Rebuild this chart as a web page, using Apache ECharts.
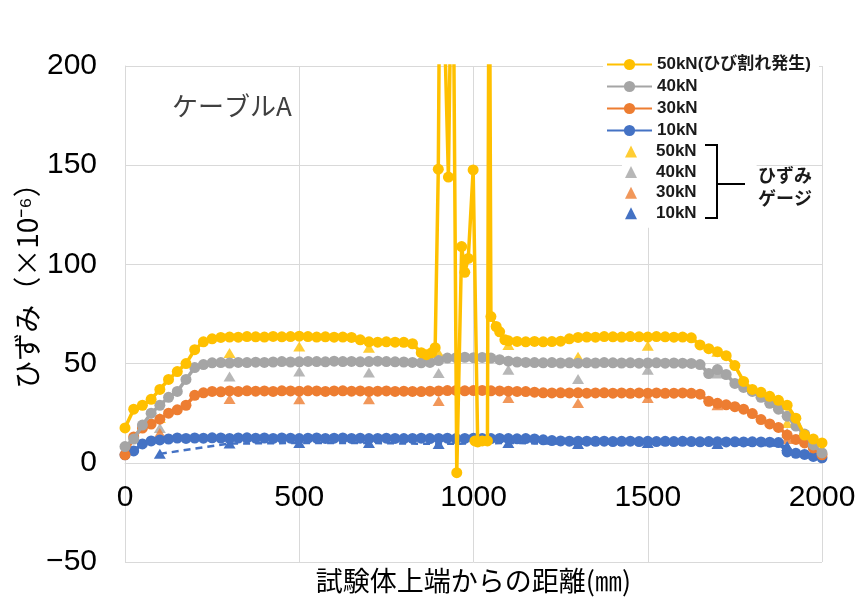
<!DOCTYPE html>
<html>
<head>
<meta charset="utf-8">
<script src="https://cdn.jsdelivr.net/npm/echarts@6/dist/echarts.min.js"></script>
<style>
html, body { margin: 0; padding: 0; background: #fff; }
#chart { width: 856px; height: 600px; }
</style>
</head>
<body>
<div id="chart"></div>
<script>
// 軸の目盛
var xTicks = [0, 500, 1000, 1500, 2000];
var yTicks = [-50, 0, 50, 100, 150, 200];

// 光ファイバ計測位置(mm) 10/30/40kN共通
var dist = [
	0, 25, 50, 75, 100, 125, 150, 175, 200, 225,
	250, 275, 300, 325, 350, 375, 400, 425, 450, 475,
	500, 525, 550, 575, 600, 625, 650, 675, 700, 725,
	750, 775, 800, 825, 850, 875, 900, 925, 950, 975,
	1000, 1025, 1050, 1075, 1100, 1125, 1150, 1175, 1200, 1225,
	1250, 1275, 1300, 1325, 1350, 1375, 1400, 1425, 1450, 1475,
	1500, 1525, 1550, 1575, 1600, 1625, 1650, 1675, 1700, 1725,
	1750, 1775, 1800, 1825, 1850, 1875, 1900, 1925, 1950, 1975,
	2000
];
var kN10 = [
	4, 6, 9.5, 11, 11.5, 12, 12.5, 12.3, 12.5, 12.4,
	12.6, 12.5, 12.3, 12.5, 12.6, 12.4, 12.5, 12.3, 12.5, 12.4,
	12.2, 12.4, 12.5, 12.3, 12.4, 12.5, 12.3, 12.4, 12.2, 12.3,
	12.4, 12.3, 12.2, 12.3, 12.4, 12.2, 12.3, 12.4, 12.2, 12.3,
	12.4, 12.3, 12.2, 12.3, 12.2, 12.1, 12.2, 12, 11.6, 11.2,
	11, 10.9, 10.8, 10.9, 10.8, 10.9, 10.7, 10.8, 10.9, 10.7,
	10.8, 10.7, 10.8, 10.7, 10.8, 10.7, 10.6, 10.7, 10.6, 10.5,
	10.6, 10.5, 10.6, 10.5, 10.4, 10.2, 5.5, 4.8, 4.2, 3.2,
	2.5
];
var kN30 = [
	4, 13, 17.5, 19.5, 22, 25, 26.7, 29, 34, 35.3,
	36, 35.8, 36.2, 36, 36.3, 36.1, 36.2, 36, 36.3, 36.2,
	36.1, 36.3, 36.2, 36, 36.2, 36.3, 36.1, 36.2, 36, 36.1,
	36.2, 36, 36.1, 36, 35.9, 36.1, 36.2, 36.4, 36.5, 36.3,
	36.4, 36.5, 36.3, 36.2, 36.1, 36, 35.9, 35.6, 35.3, 35.2,
	35.3, 35.2, 35.3, 35.1, 35.2, 35.3, 35.1, 35.2, 35, 35.2,
	35.1, 35.2, 35, 35.1, 35.2, 35, 34.6, 31, 30, 29.2,
	28.3, 27, 24.8, 21.8, 19.6, 17.8, 14, 11.8, 10, 7.5,
	4
];
var kN40 = [
	8.2, 12, 19, 25, 29, 33, 36, 42, 48, 49.5,
	50.4, 50.5, 50.3, 50.6, 50.5, 50.7, 50.6, 50.8, 51, 50.8,
	50.9, 51.1, 51, 50.9, 51.2, 51, 51.1, 50.9, 51, 51.2,
	51, 50.9, 50.8, 50.6, 50.4, 50.6, 51.5, 52.8, 53, 53.2,
	53, 53.1, 52.8, 52, 51.2, 50.8, 50.6, 50.5, 50.4, 50.5,
	50.3, 50.4, 50.2, 50.4, 50.3, 50.5, 50.4, 50.3, 50.4, 50.2,
	50.3, 50.4, 50.2, 50.3, 50.2, 50.1, 49.5, 45, 47, 44.5,
	40, 38, 36, 33, 30, 27, 23.5, 18.5, 14.5, 9,
	5
];

// 50kN(ひび割れ発生) 中央付近は計測点が別
var dist50 = [
	0, 25, 50, 75, 100, 125, 150, 175, 200, 225,
	250, 275, 300, 325, 350, 375, 400, 425, 450, 475,
	500, 525, 550, 575, 600, 625, 650, 675, 700, 725,
	750, 775, 800, 825, 850, 865, 880, 890, 899, 905,
	928, 940, 952, 966, 975, 985, 999, 1012, 1004, 1025,
	1040, 1045, 1050, 1065, 1075, 1090, 1100, 1125, 1150, 1175,
	1200, 1225, 1250, 1275, 1300, 1325, 1350, 1375, 1400, 1425,
	1450, 1475, 1500, 1525, 1550, 1575, 1600, 1625, 1650, 1675,
	1700, 1725, 1750, 1775, 1800, 1825, 1850, 1875, 1900, 1925,
	1950, 1975, 2000
];
var kN50 = [
	17.6, 27, 29, 32, 37, 42, 46, 50, 57, 61,
	62.5, 63.2, 63.4, 63.3, 63.6, 63.5, 63.4, 63.7, 63.5, 63.6,
	63.8, 63.6, 63.4, 63.5, 63.3, 63.4, 63.2, 62, 61, 60.8,
	61, 60.8, 60.7, 60, 55.5, 54.5, 55.5, 58, 148, 300,
	144, 300, -5, 109, 96, 103, 147.6, 10.5, 11, 11,
	11, 300, 73.7, 68.7, 66, 62, 61.5, 61.2, 61, 61.2,
	61, 61.1, 61.3, 62.5, 63.2, 63.4, 63.3, 63.6, 63.5, 63.4,
	63.6, 63.5, 63.4, 63.6, 63.5, 63.3, 63.4, 63, 59.4, 57.5,
	56, 54, 49, 41, 37, 35.5, 33.5, 31.5, 29, 22.5,
	14, 12, 10
];

// ひずみゲージ
var gaugeDist = [100, 300, 500, 700, 900, 1100, 1300, 1500, 1700, 1900];
var gauge50 = [22.6, 55.4, 58.6, 58, 55.4, 59.4, 53.5, 59, 56, 20];
var gauge40 = [17.6, 43.5, 46, 45.5, 45.3, 46.9, 42.3, 46.9, 45, 15];
var gauge30 = [15, 32.2, 32, 32, 31.2, 32.7, 30.2, 32.7, 29, 12];
var gauge10 = [4.5, 9.7, 10, 10, 9.5, 10, 9.5, 10, 9.5, 8.5];

var COLORS = { k50: '#FFC000', k40: '#A5A5A5', k30: '#ED7D31', k10: '#4472C4' };
var GAUGE = 'ゲージ ';
var NUM_FONT = "'Liberation Sans', sans-serif";
var JP_FONT = "'Noto Sans CJK JP', sans-serif";
var LEGEND_FONT = "'Liberation Sans', 'Noto Sans CJK JP', sans-serif";

/**
 * x,y配列を点列にする
 */
var _pairs = function(xs, ys) {
	var out = [];
	for(var i = 0; i < xs.length; i++) {
		out.push([xs[i], ys[i]]);
	}
	return out;
};

/**
 * 光ファイバの折れ線(丸マーカー)
 */
var _fiber = function(name, color, xs, ys, z) {
	return {
		name: name,
		type: 'line',
		data: _pairs(xs, ys),
		symbol: 'circle',
		symbolSize: 11,
		clip: true,
		z: z,
		itemStyle: { color: color },
		lineStyle: { color: color, width: 3.5 },
		emphasis: { disabled: true }
	};
};

/**
 * ゲージの三角マーカー
 */
var _gauge = function(name, color, ys, dashed) {
	var s = {
		name: GAUGE + name,
		type: dashed ? 'line' : 'scatter',
		data: _pairs(gaugeDist, ys),
		symbol: 'triangle',
		symbolSize: [12, 10],
		z: 1,
		itemStyle: { color: color },
		emphasis: { disabled: true }
	};
	if(dashed) {
		s.lineStyle = { color: color, width: 2.5, type: [7, 5] };
	}
	return s;
};

var _plain = function(v) {
	return String(v).replace('-', '\u2212');
};

var chart = echarts.init(document.getElementById('chart'), null, { renderer: 'canvas' });

var option = {
	animation: false,
	backgroundColor: '#fff',
	grid: { left: 125, right: 34, top: 66, bottom: 38, outerBoundsMode: 'none' },
	xAxis: {
		type: 'value',
		min: xTicks[0],
		max: xTicks[xTicks.length - 1],
		interval: xTicks[1] - xTicks[0],
		// 目盛ラベルは0の線の下に置く
		offset: -99,
		axisLine: { show: true, onZero: false, lineStyle: { color: '#d9d9d9', width: 1 } },
		axisTick: { show: false },
		axisLabel: { margin: 20, color: '#000', fontSize: 30, fontFamily: NUM_FONT, formatter: _plain },
		splitLine: { show: true, lineStyle: { color: '#d9d9d9', width: 1 } },
		name: '試験体上端からの距離(㎜)',
		nameLocation: 'middle',
		nameGap: 104,
		nameMoveOverlap: false,
		nameTextStyle: { color: '#000', fontSize: 27, fontFamily: JP_FONT }
	},
	yAxis: {
		type: 'value',
		min: yTicks[0],
		max: yTicks[yTicks.length - 1],
		interval: yTicks[1] - yTicks[0],
		axisLine: { show: true, lineStyle: { color: '#d9d9d9', width: 1 } },
		axisTick: { show: false },
		axisLabel: { margin: 28, color: '#000', fontSize: 30, fontFamily: NUM_FONT, formatter: _plain },
		splitLine: { show: true, lineStyle: { color: '#d9d9d9', width: 1 } },
		name: 'ひずみ（×10⁻⁶）',
		nameLocation: 'middle',
		nameRotate: 90,
		nameGap: 84,
		nameMoveOverlap: false,
		nameTextStyle: { color: '#000', fontSize: 28, fontFamily: JP_FONT, padding: [0, 0, 0, 70] }
	},
	legend: [{
		// 光ファイバ
		orient: 'vertical',
		left: 603,
		top: 53,
		itemWidth: 45,
		itemHeight: 14,
		itemGap: 5,
		padding: [3, 8, 3, 3],
		backgroundColor: '#fff',
		selectedMode: false,
		textStyle: { color: '#1a1a1a', fontSize: 17, fontWeight: 'bold', fontFamily: LEGEND_FONT },
		data: ['50kN(ひび割れ発生)', '40kN', '30kN', '10kN']
	}, {
		// ゲージ
		orient: 'vertical',
		left: 622,
		top: 140,
		itemWidth: 12,
		itemHeight: 12,
		itemGap: 3.6,
		padding: [3, 60, 6, 3],
		backgroundColor: '#fff',
		selectedMode: false,
		textStyle: { color: '#1a1a1a', fontSize: 17, fontWeight: 'bold', fontFamily: LEGEND_FONT, padding: [0, 0, 0, 14] },
		formatter: function(n) { return n.replace(GAUGE, ''); },
		data: [
			{ name: GAUGE + '50kN', icon: 'triangle' },
			{ name: GAUGE + '40kN', icon: 'triangle' },
			{ name: GAUGE + '30kN', icon: 'triangle' },
			{ name: GAUGE + '10kN', icon: 'triangle' }
		]
	}],
	graphic: [{
		type: 'text',
		left: 172,
		top: 93,
		style: { text: 'ケーブルA', fill: '#404040', font: '26px ' + JP_FONT }
	}, {
		type: 'polyline',
		z: 100,
		shape: { points: [[705, 145], [717, 145], [717, 218], [705, 218]] },
		style: { stroke: '#000', lineWidth: 2, fill: null }
	}, {
		type: 'line',
		z: 100,
		shape: { x1: 717, y1: 184, x2: 745, y2: 184 },
		style: { stroke: '#000', lineWidth: 2 }
	}, {
		type: 'text',
		z: 100,
		x: 785,
		y: 175,
		style: { text: 'ひずみ', fill: '#1a1a1a', font: 'bold 18px ' + JP_FONT, align: 'center', verticalAlign: 'middle' }
	}, {
		type: 'text',
		z: 100,
		x: 785,
		y: 198,
		style: { text: 'ゲージ', fill: '#1a1a1a', font: 'bold 18px ' + JP_FONT, align: 'center', verticalAlign: 'middle' }
	}],
	series: [
		_gauge('50kN', COLORS.k50, gauge50, false),
		_gauge('40kN', COLORS.k40, gauge40, false),
		_gauge('30kN', COLORS.k30, gauge30, false),
		_gauge('10kN', COLORS.k10, gauge10, true),
		_fiber('10kN', COLORS.k10, dist, kN10, 2),
		_fiber('30kN', COLORS.k30, dist, kN30, 3),
		_fiber('40kN', COLORS.k40, dist, kN40, 4),
		_fiber('50kN(ひび割れ発生)', COLORS.k50, dist50, kN50, 5)
	]
};

chart.setOption(option);
</script>
</body>
</html>
